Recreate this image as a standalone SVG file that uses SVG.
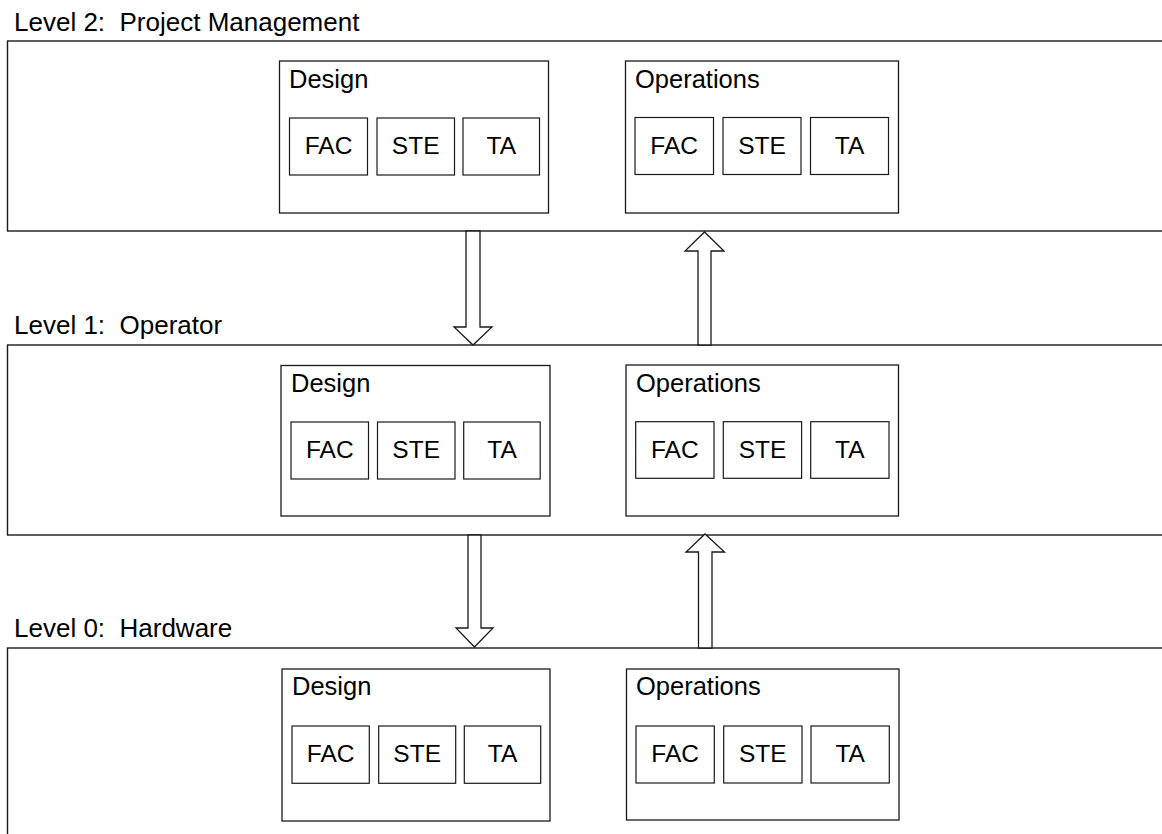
<svg xmlns="http://www.w3.org/2000/svg" width="1162" height="834" viewBox="0 0 1162 834">
  <style>
    .frame { fill: #ffffff; stroke: #1a1a1a; stroke-width: 1.4; }
    .box { fill: #ffffff; stroke: #1a1a1a; stroke-width: 1.3; }
    .cell { fill: #ffffff; stroke: #1a1a1a; stroke-width: 1.2; }
    .arrow { fill: #ffffff; stroke: #1a1a1a; stroke-width: 1.3; stroke-linejoin: miter; }
    text { font-family: "Liberation Sans", Arial, sans-serif; font-size: 24.5px; fill: #000000; }
    .lvl { font-size: 26px; }
    .title { font-size: 25.5px; }
    .mid { text-anchor: middle; }
  </style>

  <!-- Level 2 -->
  <g id="level2">
    <text class="lvl" x="14" y="31">Level 2:&#160; Project Management</text>
    <rect class="frame" x="7.5" y="41" width="1170" height="190"/>
  </g>
  <g id="level2-design">
    <rect class="box" x="279.5" y="61" width="269" height="152"/>
    <text class="title" x="289" y="88">Design</text>
    <g id="level2-design-fac"><rect class="cell" x="289.5" y="118" width="78" height="57"/><text class="mid" x="328.5" y="154">FAC</text></g>
    <g id="level2-design-ste"><rect class="cell" x="377" y="118" width="77.5" height="57"/><text class="mid" x="415.7" y="154">STE</text></g>
    <g id="level2-design-ta"><rect class="cell" x="463" y="118" width="76.5" height="57"/><text class="mid" x="501.3" y="154">TA</text></g>
  </g>
  <g id="level2-operations">
    <rect class="box" x="625.5" y="61" width="273" height="152"/>
    <text class="title" x="635" y="88">Operations</text>
    <g id="level2-ops-fac"><rect class="cell" x="635" y="117.5" width="78.5" height="57"/><text class="mid" x="674.2" y="154">FAC</text></g>
    <g id="level2-ops-ste"><rect class="cell" x="723" y="117.5" width="78" height="57"/><text class="mid" x="762" y="154">STE</text></g>
    <g id="level2-ops-ta"><rect class="cell" x="810.5" y="117.5" width="78" height="57"/><text class="mid" x="849.5" y="154">TA</text></g>
  </g>

  <!-- Level 1 -->
  <g id="level1">
    <text class="lvl" x="14" y="334">Level 1:&#160; Operator</text>
    <rect class="frame" x="7.5" y="345" width="1170" height="190"/>
  </g>
  <g id="level1-design">
    <rect class="box" x="281" y="365.5" width="269" height="150.5"/>
    <text class="title" x="291" y="392">Design</text>
    <g id="level1-design-fac"><rect class="cell" x="291" y="422" width="77.5" height="57"/><text class="mid" x="329.8" y="458">FAC</text></g>
    <g id="level1-design-ste"><rect class="cell" x="377.5" y="422" width="77.5" height="57"/><text class="mid" x="416.2" y="458">STE</text></g>
    <g id="level1-design-ta"><rect class="cell" x="463.7" y="422" width="76.5" height="57"/><text class="mid" x="502" y="458">TA</text></g>
  </g>
  <g id="level1-operations">
    <rect class="box" x="626" y="365" width="272.5" height="151"/>
    <text class="title" x="636" y="392">Operations</text>
    <g id="level1-ops-fac"><rect class="cell" x="635.7" y="421.7" width="78.3" height="56.6"/><text class="mid" x="674.8" y="458">FAC</text></g>
    <g id="level1-ops-ste"><rect class="cell" x="723.3" y="421.7" width="78.3" height="56.6"/><text class="mid" x="762.5" y="458">STE</text></g>
    <g id="level1-ops-ta"><rect class="cell" x="810.7" y="421.7" width="78.3" height="56.6"/><text class="mid" x="849.8" y="458">TA</text></g>
  </g>

  <!-- Level 0 -->
  <g id="level0">
    <text class="lvl" x="14" y="637">Level 0:&#160; Hardware</text>
    <rect class="frame" x="7.5" y="648" width="1170" height="200"/>
  </g>
  <g id="level0-design">
    <rect class="box" x="282" y="669" width="268" height="152"/>
    <text class="title" x="292" y="695">Design</text>
    <g id="level0-design-fac"><rect class="cell" x="292" y="726" width="77.3" height="57.3"/><text class="mid" x="330.7" y="762">FAC</text></g>
    <g id="level0-design-ste"><rect class="cell" x="378.7" y="726" width="77" height="57.3"/><text class="mid" x="417.2" y="762">STE</text></g>
    <g id="level0-design-ta"><rect class="cell" x="464.3" y="726" width="76.4" height="57.3"/><text class="mid" x="502.5" y="762">TA</text></g>
  </g>
  <g id="level0-operations">
    <rect class="box" x="626.5" y="669" width="272.5" height="151"/>
    <text class="title" x="636" y="695">Operations</text>
    <g id="level0-ops-fac"><rect class="cell" x="636" y="726" width="78.3" height="57"/><text class="mid" x="675.2" y="762">FAC</text></g>
    <g id="level0-ops-ste"><rect class="cell" x="723.7" y="726" width="78.3" height="57"/><text class="mid" x="762.8" y="762">STE</text></g>
    <g id="level0-ops-ta"><rect class="cell" x="811" y="726" width="78.3" height="57"/><text class="mid" x="850.2" y="762">TA</text></g>
  </g>

  <!-- Hollow block arrows between levels -->
  <g id="connectors">
    <polygon class="arrow" points="466,231 480,231 480,327 492,327 473,345 454,327 466,327"/>
    <polygon class="arrow" points="698,345 711,345 711,251 724,251 704.5,232 685,251 698,251"/>
    <polygon class="arrow" points="468,535 481,535 481,628 493,628 474.5,647 456,628 468,628"/>
    <polygon class="arrow" points="698.5,648 712,648 712,552 724.5,552 705,534 686,552 698.5,552"/>
  </g>
</svg>
